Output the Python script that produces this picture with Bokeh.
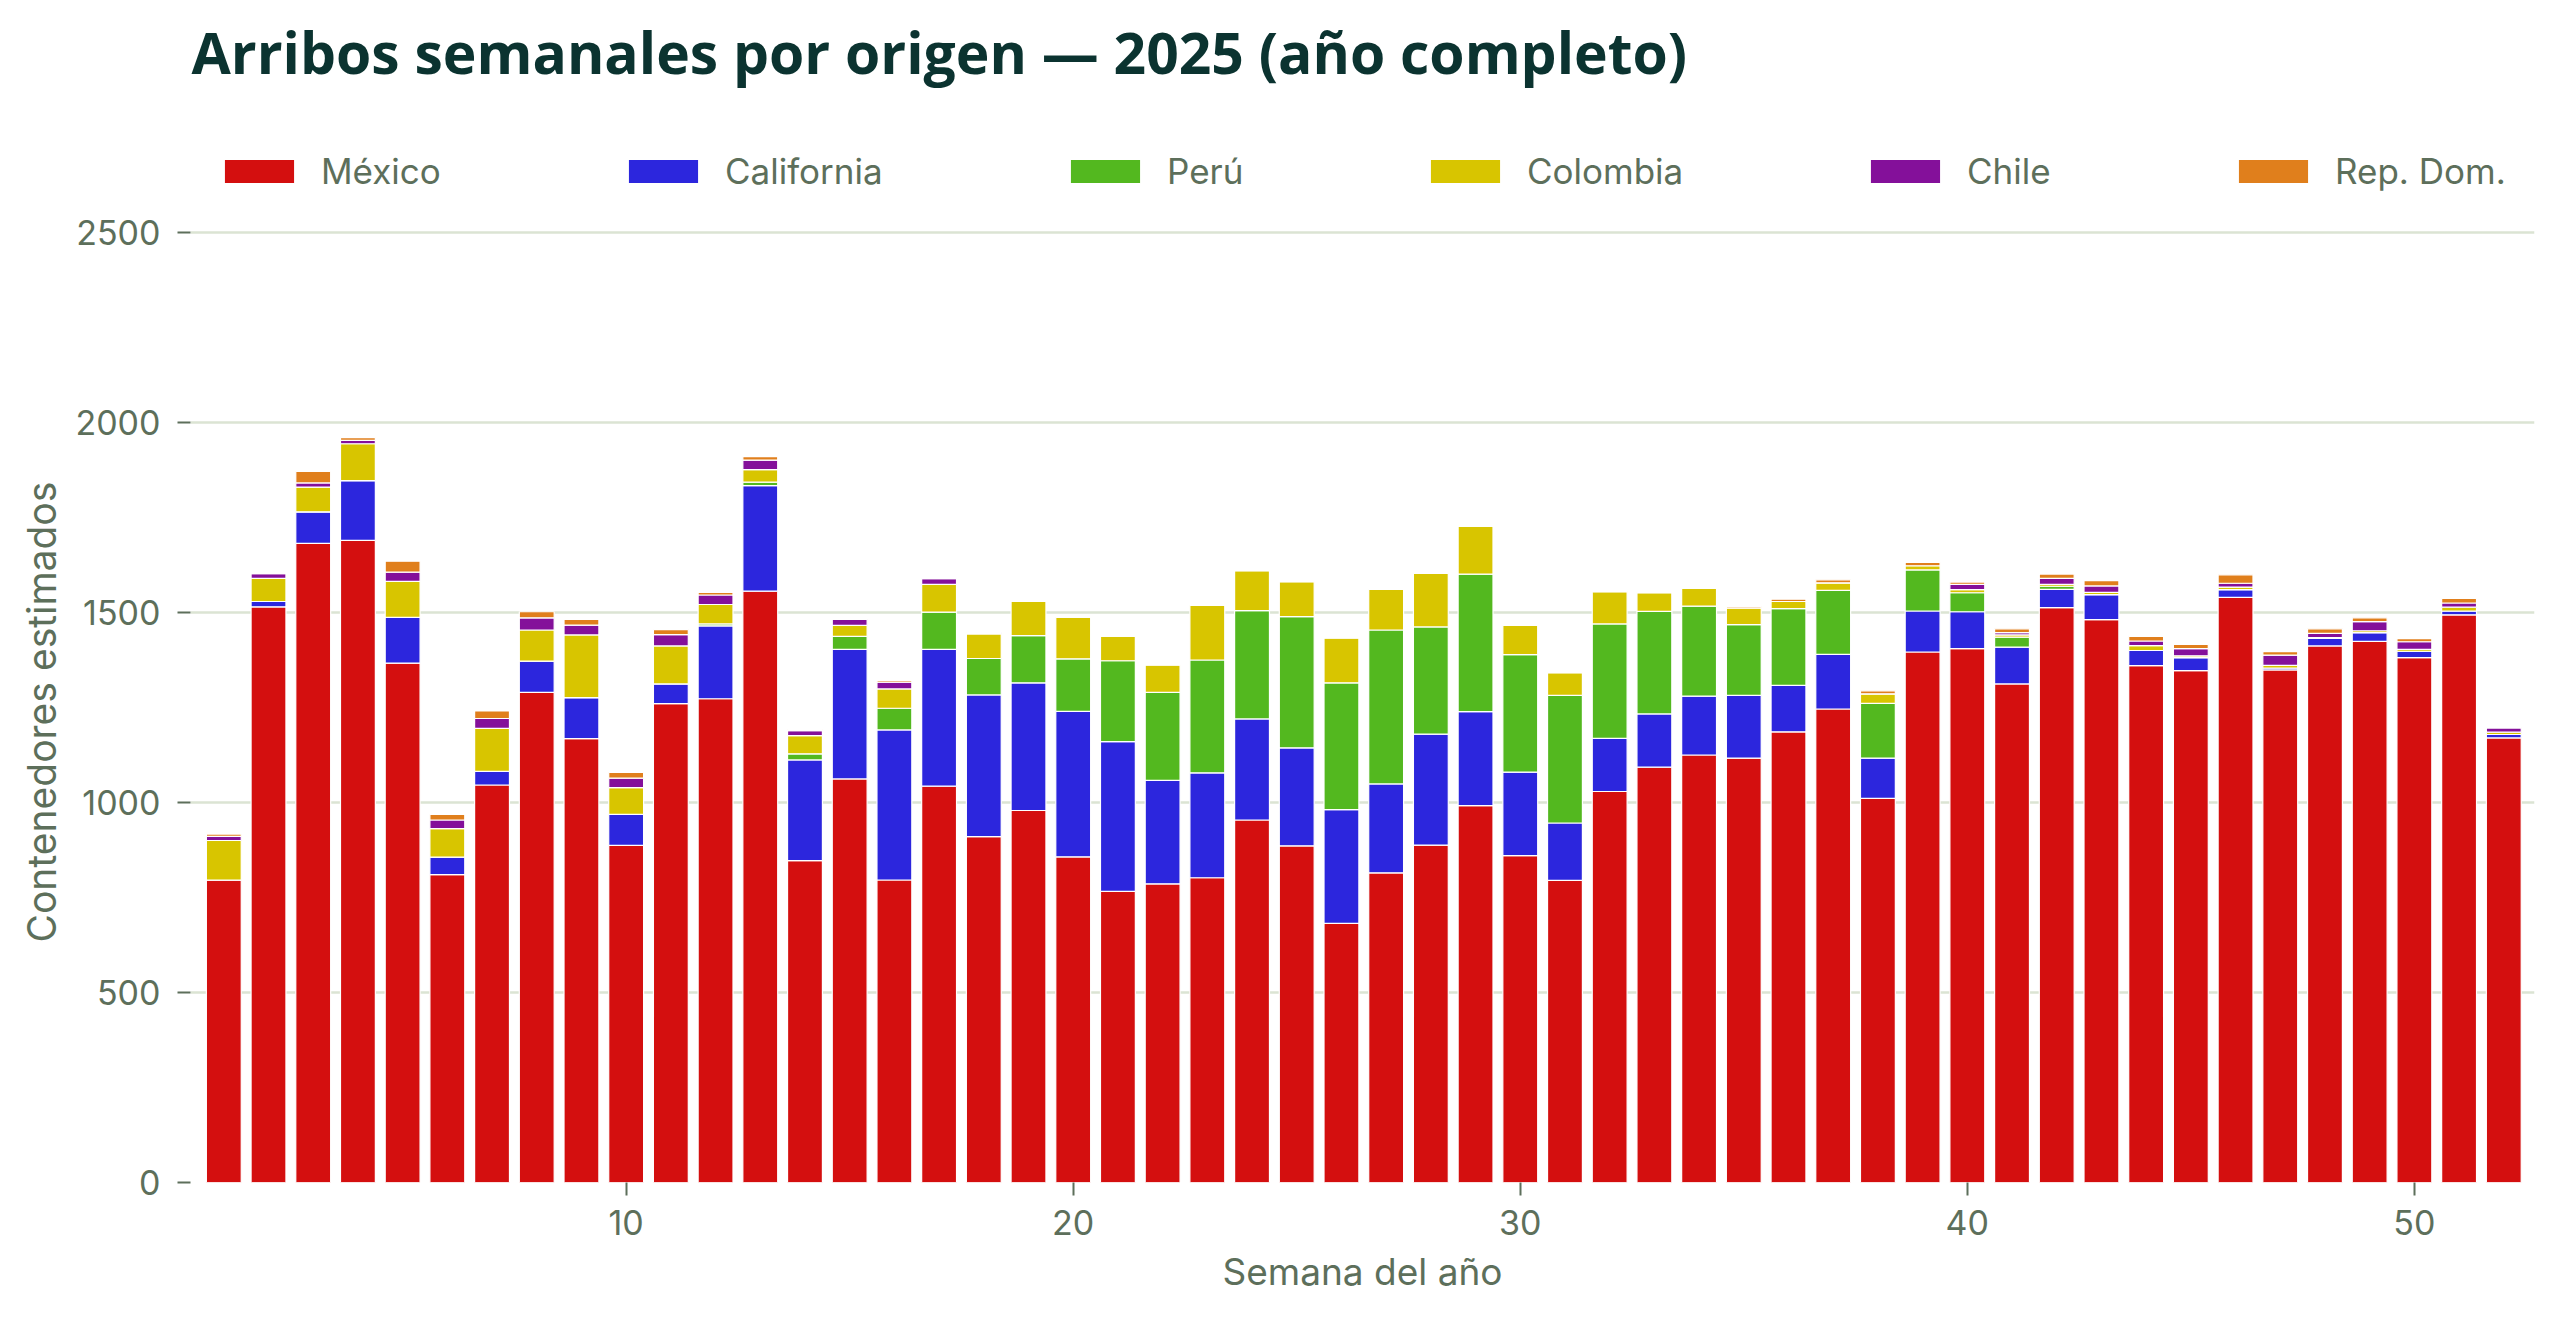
import math
from bokeh.plotting import figure
from bokeh.models import (Range1d, FixedTicker, Legend, LegendItem, ColumnDataSource,
                          Label, Title)
from bokeh.embed import file_html
from bokeh.resources import INLINE

weeks = list(range(1, 53))
mexico = [796, 1515, 1682, 1690, 1367, 810, 1046, 1290, 1168, 887,
          1260, 1273, 1556, 847, 1062, 796, 1043, 910, 979, 857,
          766, 786, 802, 954, 886, 682, 815, 888, 992, 860,
          795, 1029, 1093, 1125, 1117, 1186, 1246, 1011, 1396, 1405,
          1312, 1513, 1481, 1360, 1347, 1540, 1349, 1412, 1424, 1381,
          1494, 1170]
california = [0, 14, 83, 157, 120, 46, 36, 82, 108, 82,
              52, 192, 278, 265, 341, 395, 360, 373, 336, 383,
              394, 272, 276, 266, 258, 299, 234, 292, 247, 220,
              151, 140, 140, 155, 165, 122, 144, 106, 108, 97,
              97, 48, 66, 40, 34, 20, 5, 20, 23, 17,
              10, 9]
peru = [0, 0, 0, 0, 0, 0, 0, 0, 0, 0,
        0, 5, 9, 16, 34, 57, 98, 96, 124, 138,
        213, 232, 297, 285, 345, 334, 405, 282, 362, 309,
        336, 301, 270, 237, 186, 202, 168, 144, 108, 50,
        26, 8, 0, 0, 0, 0, 0, 0, 0, 0,
        0, 0]
colombia = [104, 61, 65, 97, 95, 75, 113, 82, 165, 70,
            100, 51, 33, 48, 29, 51, 73, 65, 90, 110,
            65, 72, 144, 105, 92, 118, 107, 141, 126, 77,
            60, 85, 49, 47, 44, 19, 20, 25, 11, 8,
            6, 5, 6, 13, 5, 7, 7, 2, 5, 5,
            10, 6]
chile = [11, 12, 11, 9, 24, 23, 26, 32, 26, 25,
         30, 25, 25, 13, 16, 18, 15, 3, 0, 0,
         0, 0, 0, 0, 0, 0, 0, 0, 0, 0,
         0, 0, 0, 0, 0, 0, 0, 0, 0, 14,
         6, 16, 17, 12, 19, 10, 27, 11, 24, 20,
         11, 11]
rep_dom = [6, 2, 30, 7, 29, 15, 20, 16, 15, 15,
           13, 7, 9, 3, 0, 4, 0, 0, 0, 0,
           0, 0, 0, 0, 0, 0, 0, 0, 0, 0,
           0, 0, 3, 0, 4, 6, 8, 8, 9, 6,
           10, 11, 14, 12, 11, 22, 9, 12, 10, 8,
           12, 1]

series_labels = ["México", "California", "Perú", "Colombia", "Chile", "Rep. Dom."]
series_keys = ["mexico", "california", "peru", "colombia", "chile", "rep_dom"]
series_colors = ["#d40f0f", "#2c26dd", "#53b81f", "#d8c500", "#84109a", "#e07f1c"]
y_ticks = [0, 500, 1000, 1500, 2000, 2500]
x_ticks = [10, 20, 30, 40, 50]

title_text = "Arribos semanales por origen — 2025 (año completo)"
x_label = "Semana del año"
y_label = "Contenedores estimados"

TEXT = "#5d6f5b"

src = ColumnDataSource(dict(week=weeks, mexico=mexico, california=california,
                            peru=peru, colombia=colombia, chile=chile, rep_dom=rep_dom))

# plot frame spans from the canvas top down to the zero line; title and legend sit inside it
p = figure(width=2560, height=1323, output_backend="svg", toolbar_location=None,
           x_range=Range1d(0.255, 52.687), y_range=Range1d(0, 3110.5),
           min_border_left=190, min_border_right=26, min_border_bottom=141,
           min_border_top=0)
p.title_location = None
p.outline_line_color = None
p.background_fill_color = "white"

renderers = p.vbar_stack(series_keys, x="week", width=0.78, source=src,
                         fill_color=series_colors, line_color="white", line_width=1.2)

p.add_layout(Label(x=1, y=2975, x_units="screen", y_units="data", text=title_text,
                   text_align="left", text_baseline="alphabetic",
                   text_font="Open Sans", text_font_style="bold",
                   text_font_size="57px", text_color="#0b3330"))

p.xgrid.visible = False
p.ygrid.grid_line_color = "#dbe4d3"
p.ygrid.grid_line_width = 2.5

p.xaxis.ticker = FixedTicker(ticks=x_ticks)
p.yaxis.ticker = FixedTicker(ticks=y_ticks)
for ax in (p.xaxis, p.yaxis):
    ax.axis_line_color = None
    ax.major_tick_line_color = TEXT
    ax.major_tick_line_width = 2
    ax.major_tick_out = 13
    ax.major_tick_in = 0
    ax.minor_tick_line_color = None
    ax.major_label_text_font = "Inter"
    ax.major_label_text_font_size = "34px"
    ax.major_label_text_color = TEXT
    ax.axis_label_text_font = "Inter"
    ax.axis_label_text_font_size = "37px"
    ax.axis_label_text_font_style = "normal"
    ax.axis_label_text_color = TEXT
p.xaxis.axis_label = x_label
p.xaxis.major_label_standoff = 14
p.yaxis.major_label_standoff = 17
p.xaxis.axis_label_standoff = 11

# y-axis title: a rotated title in the left panel, aligned with the 0..2500 band
p.add_layout(Title(text=y_label, align="left", offset=240, standoff=16,
                   text_font="Inter", text_font_size="39px", text_font_style="normal",
                   text_color=TEXT), "left")

legend_x = [25, 429, 871, 1231, 1671, 2039]
for lab, r, lx in zip(series_labels, renderers, legend_x):
    leg = Legend(items=[LegendItem(label=lab, renderers=[r])], location=(lx, 990),
                 orientation="horizontal", glyph_width=88, glyph_height=30,
                 label_standoff=18, padding=0, margin=0, spacing=0,
                 border_line_color=None, background_fill_alpha=0,
                 label_text_font="Inter", label_text_font_size="35px",
                 label_text_color=TEXT)
    p.add_layout(leg)

open("out.html", "w").write(file_html(p, INLINE))
